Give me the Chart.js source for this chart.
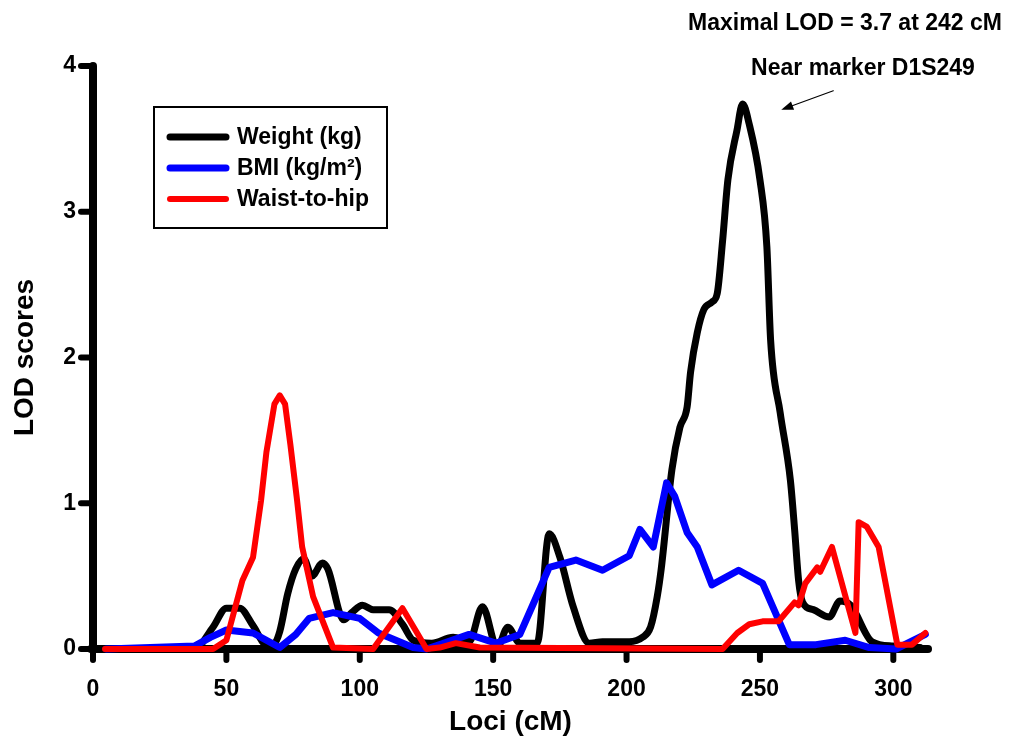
<!DOCTYPE html>
<html>
<head>
<meta charset="utf-8">
<script src="https://cdn.jsdelivr.net/npm/chart.js@4"></script>
<style>
html, body { margin: 0; padding: 0; background: #fff; }
</style>
</head>
<body>
<canvas id="lodChart" width="1011" height="746"></canvas>
<script>
// Loci (cM) and LOD scores
var weightLoci = [5, 38, 45, 50, 55, 60, 65, 68, 70, 73, 76, 79, 82, 86, 88, 94, 97, 101, 105, 111, 116, 120, 127, 135, 141, 146, 151.5, 155.5, 160, 166.5, 171, 175, 180, 186, 191, 201, 206, 209, 211.5, 213, 217, 220, 222.7, 224, 226.5, 229, 232, 234, 236, 238, 241.4, 243.5, 246, 250, 252.6, 254, 257.6, 261.4, 263, 264.5, 266, 270, 276, 280, 284, 292, 300, 310];
var weightLod = [0, 0, 0.15, 0.28, 0.28, 0.16, 0.03, 0.04, 0.12, 0.38, 0.55, 0.62, 0.5, 0.59, 0.55, 0.2, 0.25, 0.3, 0.27, 0.27, 0.17, 0.06, 0.04, 0.08, 0.05, 0.29, 0.01, 0.15, 0.04, 0.04, 0.79, 0.63, 0.29, 0.04, 0.05, 0.05, 0.08, 0.15, 0.36, 0.55, 1.23, 1.52, 1.66, 1.9, 2.17, 2.33, 2.38, 2.44, 2.8, 3.22, 3.56, 3.74, 3.6, 3.22, 2.76, 2.12, 1.62, 1.16, 0.82, 0.47, 0.32, 0.27, 0.22, 0.33, 0.3, 0.05, 0.02, 0.01];

var bmiLoci = [5, 38, 44, 50, 60, 70, 76, 81, 90, 100, 107, 120, 125, 130, 141, 151, 160, 166, 171, 181, 191, 201, 205, 210, 215, 218, 222.7, 226.5, 232, 242, 251, 261, 271, 282, 291, 301, 312];
var bmiLod = [0, 0.02, 0.08, 0.13, 0.11, 0.01, 0.1, 0.21, 0.25, 0.21, 0.11, 0.01, 0, 0.03, 0.1, 0.04, 0.1, 0.35, 0.56, 0.61, 0.54, 0.64, 0.82, 0.7, 1.14, 1.05, 0.8, 0.7, 0.44, 0.54, 0.45, 0.03, 0.03, 0.06, 0.01, 0, 0.1];

var whrLoci = [4.5, 45, 50, 56, 60, 63, 65, 68, 70, 72, 74, 76.5, 78.4, 82.5, 90, 105, 116, 121.5, 125, 130, 136, 145, 236, 241.5, 246, 251, 257, 263, 264.5, 267, 271.5, 272.6, 277, 285.8, 287, 290, 294.5, 301.5, 307, 312];
var whrLod = [0, 0, 0.06, 0.47, 0.63, 1.02, 1.35, 1.68, 1.74, 1.68, 1.4, 1.02, 0.7, 0.36, 0.01, 0, 0.28, 0.11, 0, 0.01, 0.04, 0.01, 0, 0.11, 0.17, 0.19, 0.19, 0.32, 0.3, 0.45, 0.56, 0.53, 0.7, 0.11, 0.87, 0.84, 0.7, 0.03, 0.03, 0.11];

var seriesLabels = ['Weight (kg)', 'BMI (kg/m\u00b2)', 'Waist-to-hip'];
var xTicks = [0, 50, 100, 150, 200, 250, 300];
var yTicks = [0, 1, 2, 3, 4];
var xMax = 313;
var yMax = 4;

var fontFamily = '"Liberation Sans", Arial, Helvetica, sans-serif';

function toPoints(xs, ys) {
    return xs.map(function (x, i) { return { x: x, y: ys[i] }; });
}

// Axis lines and tick marks, thick with rounded ends, under the curves
var axesPlugin = {
    id: 'thickAxes',
    beforeDatasetsDraw: function (chart) {
        var ctx = chart.ctx, xs = chart.scales.x, ys = chart.scales.y;
        var x0 = xs.getPixelForValue(0), x1 = xs.getPixelForValue(xMax);
        var y0 = ys.getPixelForValue(0), y1 = ys.getPixelForValue(yMax);
        ctx.save();
        ctx.strokeStyle = '#000';
        ctx.lineCap = 'round';
        ctx.lineWidth = 6;
        xTicks.forEach(function (v) {
            var p = xs.getPixelForValue(v);
            ctx.beginPath(); ctx.moveTo(p, y0); ctx.lineTo(p, y0 + 11); ctx.stroke();
        });
        yTicks.forEach(function (v) {
            var p = ys.getPixelForValue(v);
            ctx.beginPath(); ctx.moveTo(x0, p); ctx.lineTo(x0 - 12, p); ctx.stroke();
        });
        ctx.lineWidth = 8;
        ctx.beginPath(); ctx.moveTo(x0, y1); ctx.lineTo(x0, y0); ctx.stroke();
        ctx.beginPath(); ctx.moveTo(x0 - 2, y0); ctx.lineTo(x1, y0); ctx.stroke();
        ctx.restore();
    }
};

// Boxed legend inside the plot plus the peak annotation
var notesPlugin = {
    id: 'notes',
    afterDraw: function (chart) {
        var ctx = chart.ctx, xs = chart.scales.x, ys = chart.scales.y;
        ctx.save();
        // legend box
        ctx.lineWidth = 2;
        ctx.strokeStyle = '#000';
        ctx.strokeRect(154, 107, 233, 121);
        var rowY = [137, 168, 199];
        var widths = [7, 7, 6];
        ctx.font = 'bold 23px ' + fontFamily;
        ctx.textBaseline = 'middle';
        ctx.textAlign = 'left';
        chart.data.datasets.forEach(function (ds, i) {
            ctx.strokeStyle = ds.borderColor;
            ctx.lineWidth = widths[i];
            ctx.lineCap = 'round';
            ctx.beginPath(); ctx.moveTo(170, rowY[i]); ctx.lineTo(226, rowY[i]); ctx.stroke();
            ctx.fillStyle = '#000';
            ctx.fillText(ds.label, 237, rowY[i] + 1);
        });
        // annotation text
        ctx.textAlign = 'center';
        ctx.font = 'bold 23px ' + fontFamily;
        ctx.fillText('Maximal LOD = 3.7 at 242 cM', 845, 24);
        ctx.fillText('Near marker D1S249', 863, 69);
        // arrow towards the peak
        var tx = xs.getPixelForValue(258), ty = ys.getPixelForValue(3.7);
        var sx = xs.getPixelForValue(277.5), sy = ys.getPixelForValue(3.83);
        var ang = Math.atan2(ty - sy, tx - sx);
        ctx.strokeStyle = '#000';
        ctx.lineWidth = 1.2;
        ctx.beginPath(); ctx.moveTo(sx, sy); ctx.lineTo(tx - 8 * Math.cos(ang), ty - 8 * Math.sin(ang)); ctx.stroke();
        ctx.fillStyle = '#000';
        ctx.beginPath();
        ctx.moveTo(tx, ty);
        ctx.lineTo(tx - 12 * Math.cos(ang) + 4.5 * Math.sin(ang), ty - 12 * Math.sin(ang) - 4.5 * Math.cos(ang));
        ctx.lineTo(tx - 12 * Math.cos(ang) - 4.5 * Math.sin(ang), ty - 12 * Math.sin(ang) + 4.5 * Math.cos(ang));
        ctx.closePath();
        ctx.fill();
        ctx.restore();
    }
};

var ctx = document.getElementById('lodChart').getContext('2d');
new Chart(ctx, {
    type: 'line',
    data: {
        datasets: [
            {
                label: seriesLabels[0],
                data: toPoints(weightLoci, weightLod),
                borderColor: '#000000',
                borderWidth: 7,
                cubicInterpolationMode: 'monotone',
                order: 3
            },
            {
                label: seriesLabels[1],
                data: toPoints(bmiLoci, bmiLod),
                borderColor: '#0000ff',
                borderWidth: 7,
                tension: 0,
                order: 2
            },
            {
                label: seriesLabels[2],
                data: toPoints(whrLoci, whrLod),
                borderColor: '#ff0000',
                borderWidth: 6,
                tension: 0,
                order: 1
            }
        ]
    },
    options: {
        responsive: false,
        animation: false,
        devicePixelRatio: 1,
        layout: { padding: { left: 0, right: 83, top: 66, bottom: 0 } },
        elements: {
            point: { radius: 0 },
            line: { fill: false, borderJoinStyle: 'round', borderCapStyle: 'round' }
        },
        datasets: { line: { clip: false } },
        plugins: {
            legend: { display: false },
            tooltip: { enabled: false }
        },
        scales: {
            x: {
                type: 'linear',
                min: 0,
                max: xMax,
                afterBuildTicks: function (s) {
                    s.ticks = xTicks.map(function (v) { return { value: v }; });
                },
                afterFit: function (s) { s.height = 97; },
                grid: { display: false, drawTicks: false },
                border: { display: false },
                ticks: {
                    padding: 27,
                    color: '#000',
                    maxRotation: 0,
                    font: { family: fontFamily, size: 23, weight: 'bold' }
                },
                title: {
                    display: true,
                    text: 'Loci (cM)',
                    color: '#000',
                    padding: { top: 0, bottom: 7 },
                    font: { family: fontFamily, size: 28, weight: 'bold' }
                }
            },
            y: {
                type: 'linear',
                min: 0,
                max: yMax,
                afterBuildTicks: function (s) {
                    s.ticks = yTicks.map(function (v) { return { value: v }; });
                },
                afterFit: function (s) { s.width = 93; },
                grid: { display: false, drawTicks: false },
                border: { display: false },
                ticks: {
                    padding: 17,
                    color: '#000',
                    font: { family: fontFamily, size: 23, weight: 'bold' }
                },
                title: {
                    display: true,
                    text: 'LOD scores',
                    color: '#000',
                    padding: { top: 8, bottom: 0 },
                    font: { family: fontFamily, size: 28, weight: 'bold' }
                }
            }
        }
    },
    plugins: [axesPlugin, notesPlugin]
});
</script>
</body>
</html>
